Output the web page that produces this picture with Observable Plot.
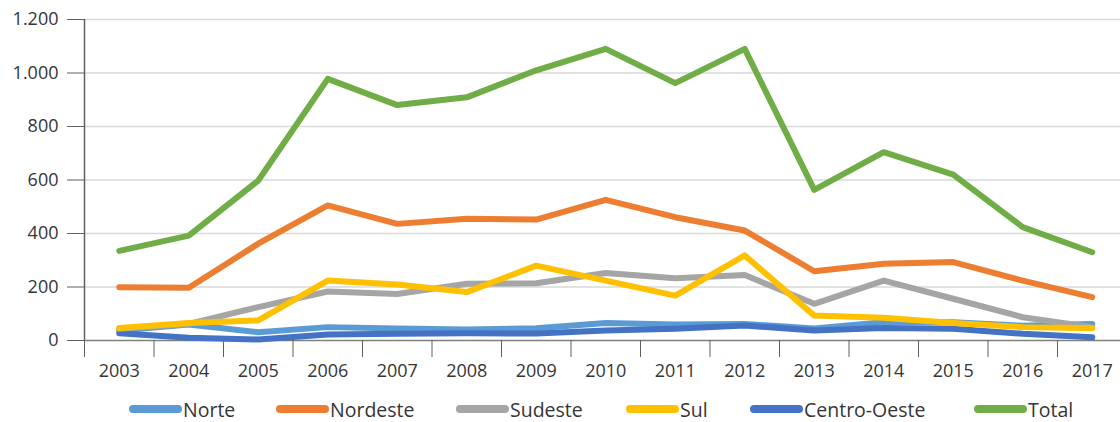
<!DOCTYPE html>
<html>
<head>
<meta charset="utf-8">
<script src="https://cdn.jsdelivr.net/npm/d3@7"></script>
<script src="https://cdn.jsdelivr.net/npm/@observablehq/plot@0.6"></script>
<style>
  html, body { margin: 0; padding: 0; background: #fff; overflow: hidden; }
  #wrap { width: 1120px; position: relative; font-family: "Open Sans", sans-serif; color: #353535; }
  #legend { position: relative; height: 32px; width: 1120px; }
  .item { position: absolute; top: 3px; height: 32px; display: flex; align-items: center; font-size: 19.5px; }
  .sw { width: 53px; height: 8px; border-radius: 4px; margin-right: 1px; }
</style>
</head>
<body>
<div id="wrap"><div id="chart"></div><div id="legend"></div></div>
<script>
const years = [2003, 2004, 2005, 2006, 2007, 2008, 2009, 2010, 2011, 2012, 2013, 2014, 2015, 2016, 2017];
const seriesNames = ["Norte", "Nordeste", "Sudeste", "Sul", "Centro-Oeste", "Total"];
const seriesColors = ["#5b9bd5", "#ed7d31", "#a5a5a5", "#ffc000", "#4472c4", "#70ad47"];
const norte = [37, 60, 31, 50, 45, 41, 46, 65, 60, 62, 45, 68, 68, 55, 62];
const nordeste = [199, 197, 362, 505, 436, 455, 452, 526, 461, 411, 259, 287, 293, 224, 162];
const sudeste = [44, 62, 125, 183, 174, 212, 214, 252, 233, 245, 137, 224, 156, 87, 50];
const sul = [47, 65, 75, 224, 209, 181, 280, 224, 168, 318, 93, 85, 65, 50, 46];
const centroOeste = [27, 10, 4, 22, 25, 27, 26, 37, 44, 56, 37, 47, 44, 25, 12];
const total = [335, 392, 598, 978, 880, 909, 1010, 1090, 962, 1090, 563, 704, 620, 424, 330];
const yTicks = [0, 200, 400, 600, 800, 1000, 1200];

const valuesByName = {
  "Norte": norte, "Nordeste": nordeste, "Sudeste": sudeste,
  "Sul": sul, "Centro-Oeste": centroOeste, "Total": total
};
const drawOrder = ["Norte", "Centro-Oeste", "Sudeste", "Sul", "Nordeste", "Total"];
const data = drawOrder.flatMap(name =>
  years.map((year, i) => ({series: name, year, value: valuesByName[name][i]})));

const boundaries = [...years.map(y => y - 0.5), years[years.length - 1] + 0.5];
const fmt = d => d3.format(",")(d).replace(/,/g, ".");

const chart = Plot.plot({
  width: 1120,
  height: 390,
  marginLeft: 84,
  marginRight: 0,
  marginTop: 19,
  marginBottom: 50,
  style: {fontFamily: "Open Sans, sans-serif", fontSize: "18px", color: "#353535", overflow: "hidden", background: "#fff"},
  x: {domain: [years[0] - 0.5, years[years.length - 1] + 0.5], range: [84, 1126.5]},
  y: {domain: [0, 1200]},
  color: {domain: seriesNames, range: seriesColors},
  marks: [
    Plot.gridY(yTicks.slice(1), {stroke: "#d9d9d9", strokeOpacity: 1, strokeWidth: 1.5}),
    Plot.axisY(yTicks, {tickSize: 17, tickPadding: 9, tickFormat: fmt, stroke: "#5f5f5f", label: null}),
    Plot.ruleX([boundaries[0]], {stroke: "#5f5f5f", strokeWidth: 1.5}),
    Plot.ruleY([0], {stroke: "#7f7f7f", strokeWidth: 1.5}),
    Plot.axisX(boundaries, {tickSize: 17, tickFormat: () => "", stroke: "#5f5f5f", label: null}),
    Plot.axisX(years, {tickSize: 0, tickPadding: 24, tickFormat: d => String(d), label: null}),
    Plot.line(data, {x: "year", y: "value", z: "series", stroke: "series", strokeWidth: 6})
  ]
});
document.getElementById("chart").appendChild(chart);

const legendLefts = [129, 276, 456, 626, 750, 974];
const legend = document.getElementById("legend");
seriesNames.forEach((name, i) => {
  const item = document.createElement("div");
  item.className = "item";
  item.style.left = legendLefts[i] + "px";
  const sw = document.createElement("div");
  sw.className = "sw";
  sw.style.background = seriesColors[i];
  const t = document.createElement("span");
  t.textContent = name;
  item.appendChild(sw);
  item.appendChild(t);
  legend.appendChild(item);
});
</script>
</body>
</html>
